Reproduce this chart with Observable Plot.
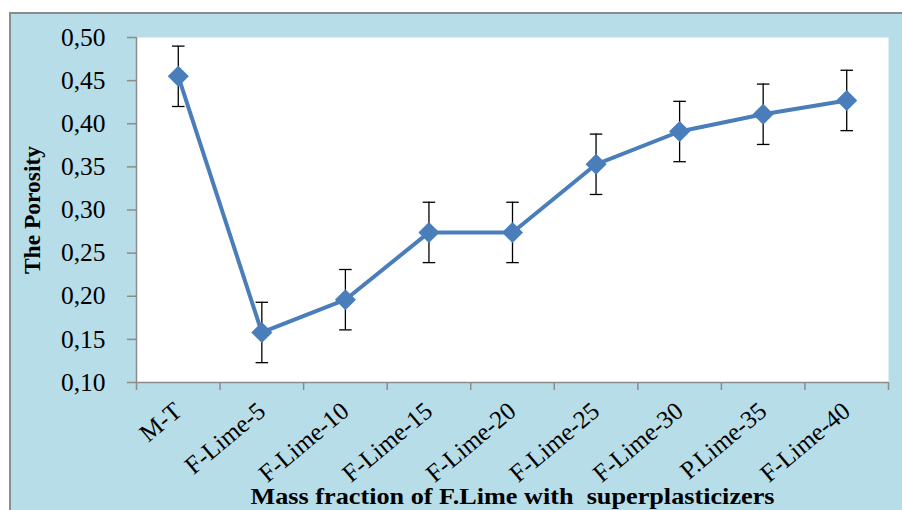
<!DOCTYPE html>
<html>
<head>
<meta charset="utf-8">
<script src="https://cdn.jsdelivr.net/npm/d3@7"></script>
<script src="https://cdn.jsdelivr.net/npm/@observablehq/plot@0.6"></script>
<style>
  html, body { margin: 0; padding: 0; background: #ffffff; }
  #wrap { position: relative; width: 902px; height: 510px; overflow: hidden; background: #ffffff; }
  #box { position: absolute; left: 9px; top: 12px; width: 900px; height: 505px;
         background: #b7dde8; border-left: 2px solid #8c8c8c; border-top: 2px solid #8c8c8c; }
  #chart { position: absolute; left: 0; top: 0; }
</style>
</head>
<body>
<div id="wrap"><div id="box"></div><div id="chart"></div></div>
<script>
const categories = ["M-T", "F-Lime-5", "F-Lime-10", "F-Lime-15", "F-Lime-20", "F-Lime-25", "F-Lime-30", "P.Lime-35", "F-Lime-40"];
const porosity = [0.455, 0.158, 0.196, 0.274, 0.274, 0.353, 0.391, 0.411, 0.427];
const errorBar = [0.035, 0.035, 0.035, 0.035, 0.035, 0.035, 0.035, 0.035, 0.035];
const yTicks = [0.10, 0.15, 0.20, 0.25, 0.30, 0.35, 0.40, 0.45, 0.50];
const yTitle = "The Porosity";
const xTitle = "Mass fraction of F.Lime with  superplasticizers";

const data = categories.map((c, i) => ({i, c, v: porosity[i], e: errorBar[i]}));
const idx = categories.map((c, i) => i);
const bounds = d3.range(-0.5, categories.length, 1);
const fam = "'Liberation Serif', 'Times New Roman', serif";
const blue = "#4a7ebb";
const gray = "#8c8c8c";

const chart = Plot.plot({
  width: 902, height: 510,
  marginLeft: 136, marginRight: 14, marginTop: 37, marginBottom: 128,
  x: {type: "linear", domain: [-0.5, categories.length - 0.5]},
  y: {domain: [0.10, 0.50]},
  style: {background: "transparent", fontFamily: fam, fontSize: "25px", color: "black", overflow: "visible"},
  marks: [
    Plot.frame({fill: "white", stroke: null}),
    Plot.axisY({ticks: yTicks, tickFormat: d => d.toFixed(2).replace(".", ","), tickSize: 9, tickPadding: 22,
                stroke: gray, fill: "black", label: null, fontSize: 25.5, strokeWidth: 1.5}),
    Plot.axisX({ticks: bounds, tickFormat: () => "", tickSize: 8, stroke: gray, label: null, strokeWidth: 1.5}),
    Plot.axisX({ticks: idx, tickFormat: i => categories[i], tickRotate: -40, tickSize: 0, tickPadding: 25,
                label: null, fontSize: 25, fill: "black"}),
    Plot.ruleX([-0.5], {stroke: gray, strokeWidth: 1.5}),
    Plot.ruleY([0.10], {stroke: gray, strokeWidth: 1.5}),
    Plot.ruleX(data, {x: "i", y1: d => d.v - d.e, y2: d => d.v + d.e, stroke: "black", strokeWidth: 1.3}),
    Plot.link(data, {x1: d => d.i - 0.075, x2: d => d.i + 0.075, y1: d => d.v + d.e, y2: d => d.v + d.e, stroke: "black", strokeWidth: 1.3}),
    Plot.link(data, {x1: d => d.i - 0.075, x2: d => d.i + 0.075, y1: d => d.v - d.e, y2: d => d.v - d.e, stroke: "black", strokeWidth: 1.3}),
    Plot.line(data, {x: "i", y: "v", stroke: blue, strokeWidth: 4}),
    Plot.dot(data, {x: "i", y: "v", symbol: "diamond2", r: 9.5, fill: blue, stroke: null}),
    Plot.text([yTitle], {frameAnchor: "left", textAnchor: "middle", lineAnchor: "middle", dx: -104, rotate: -90,
                         fontWeight: "bold", fontSize: 23.5, fill: "black"}),
    Plot.text([xTitle], {frameAnchor: "bottom", textAnchor: "middle", lineAnchor: "middle", dy: 114,
                         fontWeight: "bold", fontSize: 23, fill: "black"})
  ]
});
document.getElementById("chart").appendChild(chart);
d3.select(chart).selectAll("text").each(function() {
  if (this.textContent.startsWith("Mass fraction")) {
    this.setAttribute("xml:space", "preserve");
    this.style.whiteSpace = "pre";
    this.setAttribute("textLength", 524);
    this.setAttribute("lengthAdjust", "spacingAndGlyphs");
  }
});
</script>
</body>
</html>
